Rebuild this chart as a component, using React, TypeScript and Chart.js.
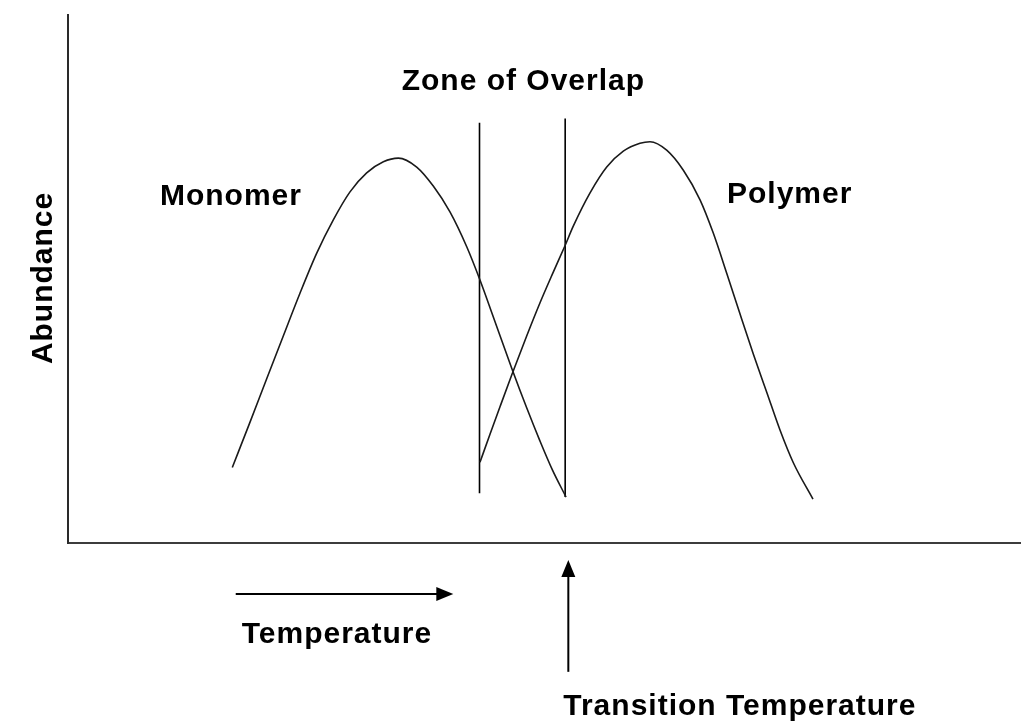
import React, { useEffect, useRef } from "react";
import { Chart, registerables } from "chart.js";

Chart.register(...registerables);

// Temperature axis runs 0..100 (arbitrary units), abundance 0..100 (arbitrary units)
const monomerTemp = [17.24, 19.1, 20.85, 22.59, 24.34, 26.1, 27.84, 29.59, 31.34, 33.09, 34.66, 36.59, 38.33, 40.08, 41.84, 43.23, 44.63, 46.56, 48.13, 49.53, 50.84, 52.26];
const monomerAbundance = [14.3, 22.9, 31.1, 39.2, 47.3, 54.9, 61.2, 66.5, 70.1, 72.2, 72.9, 71.2, 67.6, 62.7, 56.1, 49.8, 42.8, 33.1, 25.6, 19.3, 13.8, 8.7];

const polymerTemp = [43.23, 44.28, 45.33, 46.56, 48.13, 49.53, 50.92, 52.15, 53.02, 54.78, 56.53, 58.27, 60.02, 61.07, 62.82, 64.57, 66.32, 67.71, 69.12, 70.51, 71.91, 73.31, 74.71, 76.11, 78.17];
const polymerAbundance = [15.3, 20.6, 25.8, 31.8, 39.2, 45.5, 51.3, 56.3, 60.0, 66.3, 71.2, 74.2, 75.7, 76.0, 74.4, 70.6, 65.0, 58.7, 51.1, 43.4, 35.8, 28.6, 21.4, 15.2, 8.3];

// Zone of overlap boundaries
const overlapTemps = [43.18, 52.17];
const overlapTops = [79.6, 80.4];
const overlapBottoms = [9.4, 8.7];

// Transition temperature marker
const transitionTemp = 52.5;

const labelTexts = ["Zone of Overlap", "Monomer", "Polymer", "Abundance", "Temperature", "Transition Temperature"];

const FONT = 'bold 30px "Liberation Sans", Arial, Helvetica, sans-serif';

const annotationPlugin = {
  id: "annotations",
  afterDraw(chart: any) {
    const ctx: CanvasRenderingContext2D = chart.ctx;
    const xs = chart.scales.x;
    const ys = chart.scales.y;
    const X = (v: number) => xs.getPixelForValue(v);
    const Y = (v: number) => ys.getPixelForValue(v);
    ctx.save();
    ctx.fillStyle = "#000";
    ctx.strokeStyle = "#000";
    ctx.font = FONT;
    try { (ctx as any).letterSpacing = "1px"; } catch (e) {}
    ctx.textBaseline = "alphabetic";

    // Zone of Overlap (centered between boundaries)
    ctx.textAlign = "center";
    ctx.fillText(labelTexts[0], X((overlapTemps[0] + overlapTemps[1]) / 2) + 1, Y(85.8));
    ctx.textAlign = "left";
    ctx.fillText(labelTexts[1], X(9.65), Y(64.0));
    ctx.fillText(labelTexts[2], X(69.15), Y(64.4));

    // Abundance (rotated)
    ctx.save();
    ctx.translate(X(-1.71), Y(50.2));
    ctx.rotate(-Math.PI / 2);
    ctx.textAlign = "center";
    ctx.fillText(labelTexts[3], 0, 0);
    ctx.restore();

    ctx.textAlign = "left";
    ctx.fillText(labelTexts[4], X(18.23), Y(-18.9));
    ctx.fillText(labelTexts[5], X(51.97), Y(-32.6));

    // Temperature arrow (horizontal)
    const ay = Y(-9.66);
    const ax0 = X(17.6);
    const ax1 = X(40.43);
    ctx.lineWidth = 2;
    ctx.beginPath();
    ctx.moveTo(ax0, ay);
    ctx.lineTo(ax1 - 12, ay);
    ctx.stroke();
    ctx.beginPath();
    ctx.moveTo(ax1, ay);
    ctx.lineTo(ax1 - 17, ay - 7);
    ctx.lineTo(ax1 - 17, ay + 7);
    ctx.closePath();
    ctx.fill();

    // Transition temperature arrow (vertical)
    const vx = X(transitionTemp);
    const vy0 = Y(-24.4);
    const vy1 = Y(-3.2);
    ctx.beginPath();
    ctx.moveTo(vx, vy0);
    ctx.lineTo(vx, vy1 + 12);
    ctx.stroke();
    ctx.beginPath();
    ctx.moveTo(vx, vy1);
    ctx.lineTo(vx - 7, vy1 + 17);
    ctx.lineTo(vx + 7, vy1 + 17);
    ctx.closePath();
    ctx.fill();

    ctx.restore();
  },
};

export default function App() {
  const ref = useRef<HTMLCanvasElement | null>(null);

  useEffect(() => {
    if (!ref.current) return;
    const toPts = (xs: number[], ys: number[]) => xs.map((x, i) => ({ x, y: ys[i] }));
    const curveStyle = {
      showLine: true,
      borderColor: "#1a1a1a",
      borderWidth: 1.6,
      pointRadius: 0,
      cubicInterpolationMode: "monotone",
      fill: false,
    };
    const lineStyle = {
      showLine: true,
      borderColor: "#000",
      borderWidth: 1.6,
      pointRadius: 0,
      tension: 0,
      fill: false,
    };
    const chart = new Chart(ref.current, {
      type: "scatter",
      data: {
        datasets: [
          { label: "Monomer", data: toPts(monomerTemp, monomerAbundance), ...curveStyle },
          { label: "Polymer", data: toPts(polymerTemp, polymerAbundance), ...curveStyle },
          {
            label: "Overlap start",
            data: [
              { x: overlapTemps[0], y: overlapTops[0] },
              { x: overlapTemps[0], y: overlapBottoms[0] },
            ],
            ...lineStyle,
          },
          {
            label: "Overlap end",
            data: [
              { x: overlapTemps[1], y: overlapTops[1] },
              { x: overlapTemps[1], y: overlapBottoms[1] },
            ],
            ...lineStyle,
          },
        ],
      },
      options: {
        animation: false,
        responsive: false,
        devicePixelRatio: 1,
        layout: { padding: { left: 68, top: 15, right: 0, bottom: 182 } },
        plugins: {
          legend: { display: false },
          tooltip: { enabled: false },
        },
        events: [],
        scales: {
          x: {
            type: "linear",
            min: 0,
            max: 100,
            ticks: { display: false },
            grid: { display: false, drawTicks: false },
            border: { display: true, color: "#3c3c3c", width: 2 },
          },
          y: {
            type: "linear",
            min: 0,
            max: 100,
            ticks: { display: false },
            grid: { display: false, drawTicks: false },
            border: { display: true, color: "#2a2a2a", width: 2 },
          },
        },
      } as any,
      plugins: [annotationPlugin],
    });
    return () => chart.destroy();
  }, []);

  return (
    <div style={{ position: "fixed", left: 0, top: 0, width: 1021, height: 725, background: "#fff" }}>
      <canvas ref={ref} width={1021} height={725} style={{ width: 1021, height: 725, display: "block" }} />
    </div>
  );
}
